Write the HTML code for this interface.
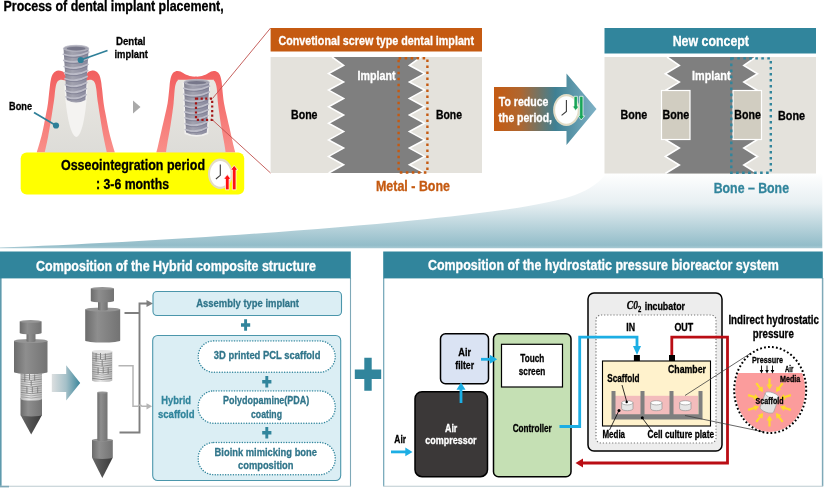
<!DOCTYPE html>
<html lang="en">
<head>
<meta charset="utf-8">
<title>Process of dental implant placement</title>
<style>
html,body{margin:0;padding:0;background:#fff;}
body{width:824px;height:488px;overflow:hidden;font-family:"Liberation Sans",sans-serif;}
svg{display:block;will-change:transform;}
svg text{font-family:"Liberation Sans",sans-serif;}
</style>
</head>
<body>
<svg width="824" height="488" viewBox="0 0 824 488">
<defs>
<linearGradient id="swoosh" x1="0" y1="0" x2="0" y2="1">
<stop offset="0" stop-color="#ffffff"/>
<stop offset="0.4" stop-color="#e7eff2"/>
<stop offset="0.96" stop-color="#93bdc9"/>
<stop offset="1" stop-color="#a9cad4"/>
</linearGradient>
<linearGradient id="arrowg" x1="0" y1="0" x2="1" y2="0">
<stop offset="0" stop-color="#c55a11"/>
<stop offset="0.25" stop-color="#b0662f"/>
<stop offset="0.6" stop-color="#3f8093"/>
<stop offset="1" stop-color="#7fb2c6"/>
</linearGradient>
<linearGradient id="sarrow" x1="0" y1="0" x2="1" y2="0">
<stop offset="0" stop-color="#dcdfe0"/>
<stop offset="0.5" stop-color="#a5c0c8"/>
<stop offset="1" stop-color="#3a869b"/>
</linearGradient>
<linearGradient id="gum" x1="0" y1="0" x2="0" y2="1">
<stop offset="0" stop-color="#f25f5f"/>
<stop offset="1" stop-color="#f98f8a"/>
</linearGradient>
<linearGradient id="bone" x1="0" y1="0" x2="0" y2="1">
<stop offset="0" stop-color="#e9e7e1"/>
<stop offset="1" stop-color="#dddcd8"/>
</linearGradient>
<linearGradient id="impl" x1="0" y1="0" x2="1" y2="0">
<stop offset="0" stop-color="#858594"/>
<stop offset="0.35" stop-color="#a3a3b0"/>
<stop offset="1" stop-color="#87879c"/>
</linearGradient>
<linearGradient id="cyl" x1="0" y1="0" x2="1" y2="0">
<stop offset="0" stop-color="#6c6c6c"/>
<stop offset="0.35" stop-color="#8e8e8e"/>
<stop offset="1" stop-color="#737373"/>
</linearGradient>
<linearGradient id="scaf" x1="0" y1="0" x2="1" y2="0">
<stop offset="0" stop-color="#b0b0b0"/>
<stop offset="0.4" stop-color="#e9e9e9"/>
<stop offset="1" stop-color="#b9b9b9"/>
</linearGradient>
<linearGradient id="cone" x1="0" y1="0" x2="1" y2="0">
<stop offset="0" stop-color="#6a6a6a"/>
<stop offset="0.4" stop-color="#555555"/>
<stop offset="1" stop-color="#3a3a3a"/>
</linearGradient>
<radialGradient id="clk" cx="0.5" cy="0.5" r="0.5">
<stop offset="0" stop-color="#ffffff"/>
<stop offset="0.8" stop-color="#ffffff"/>
<stop offset="1" stop-color="#d9d4c4"/>
</radialGradient>
</defs>
<rect width="824" height="488" fill="#ffffff"/>

<path d="M0,248.3 L0,247.6 C120,243.5 300,232 412,220.5 C480,213.5 545,206 575,195 C590,189.5 600,182 606.5,173 L822.3,173 L822.3,248.3 Z" fill="url(#swoosh)"/>
<text x="3.5" y="11.3" font-size="14" fill="#000" stroke="#000" stroke-width="0.3" font-weight="bold" textLength="220.2" lengthAdjust="spacingAndGlyphs">Process of dental implant placement,</text>
<g>
<path d="M36.7,152.5 C37.6,149.4 40.5,140.2 42.0,134.0 C43.5,127.8 44.8,120.5 45.8,115.3 C46.8,110.1 47.4,107.5 48.0,103.0 C48.6,98.5 49.1,92.4 49.6,88.6 C50.1,84.8 50.2,82.7 50.7,80.4 C51.2,78.1 51.6,76.2 52.4,74.7 C53.2,73.2 54.4,72.1 55.4,71.4 C56.4,70.7 57.4,70.5 58.5,70.5 C59.6,70.5 61.0,70.9 62.0,71.3 C63.0,71.7 63.5,72.0 64.2,72.8 C64.9,73.6 64.1,74.6 66.0,76.0 C67.9,77.4 72.5,81.0 75.8,81.0 C79.1,81.0 83.7,77.4 85.6,76.0 C87.5,74.6 86.7,73.6 87.4,72.8 C88.1,72.0 88.6,71.7 89.6,71.3 C90.5,70.9 92.0,70.5 93.1,70.5 C94.2,70.5 95.2,70.7 96.2,71.4 C97.2,72.1 98.4,73.2 99.2,74.7 C100.0,76.2 100.4,78.1 100.9,80.4 C101.4,82.7 101.5,84.8 102.0,88.6 C102.5,92.4 103.0,98.5 103.6,103.0 C104.2,107.5 104.8,110.1 105.8,115.3 C106.8,120.5 108.1,127.8 109.6,134.0 C111.1,140.2 114.0,149.4 114.9,152.5 Z" fill="url(#gum)"/>
<path d="M44.7,152.5 C45.3,149.9 46.9,142.9 48.1,136.7 C49.3,130.4 50.9,120.6 51.8,115.0 C52.7,109.4 53.1,106.3 53.6,103.3 C54.1,100.3 54.2,99.2 54.5,96.8 C54.8,94.3 55.0,90.9 55.4,88.6 C55.8,86.3 56.0,84.4 56.7,83.0 C57.4,81.6 58.3,80.4 59.8,80.0 C61.3,79.6 62.8,80.1 65.5,80.6 C68.2,81.1 72.4,83.0 75.8,83.0 C79.2,83.0 83.4,81.1 86.1,80.6 C88.8,80.1 90.3,79.6 91.8,80.0 C93.3,80.4 94.2,81.6 94.9,83.0 C95.6,84.4 95.8,86.3 96.2,88.6 C96.6,90.9 96.8,94.3 97.1,96.8 C97.4,99.2 97.5,100.3 98.0,103.3 C98.5,106.3 98.9,109.4 99.8,115.0 C100.7,120.6 102.3,130.4 103.5,136.7 C104.7,142.9 106.3,149.9 106.9,152.5 Z" fill="url(#bone)"/>
<path d="M64.3,84 C65.5,110 70,136 76.3,137 C82.5,136 86.5,110 87.6,84 Z" fill="#f4f3f1"/>
<path d="M63.5,48.3 L66.8,100 Q76.1,105 85.4,100 L88.7,48.3 Z" fill="url(#impl)"/>
<path d="M63.4,54.3 Q76.1,58.3 88.8,52.1" fill="none" stroke="#bcbcc8" stroke-width="1.7" stroke-linecap="round"/>
<path d="M64.0,55.9 Q76.1,59.9 88.2,53.7" fill="none" stroke="#75758a" stroke-width="0.9" opacity="0.7"/>
<path d="M63.8,60.4 Q76.1,64.4 88.4,58.2" fill="none" stroke="#bcbcc8" stroke-width="1.7" stroke-linecap="round"/>
<path d="M64.4,62.0 Q76.1,66.0 87.8,59.8" fill="none" stroke="#75758a" stroke-width="0.9" opacity="0.7"/>
<path d="M64.2,66.5 Q76.1,70.5 88.0,64.3" fill="none" stroke="#bcbcc8" stroke-width="1.7" stroke-linecap="round"/>
<path d="M64.8,68.1 Q76.1,72.1 87.4,65.9" fill="none" stroke="#75758a" stroke-width="0.9" opacity="0.7"/>
<path d="M64.6,72.6 Q76.1,76.6 87.6,70.4" fill="none" stroke="#bcbcc8" stroke-width="1.7" stroke-linecap="round"/>
<path d="M65.2,74.2 Q76.1,78.2 87.0,72.0" fill="none" stroke="#75758a" stroke-width="0.9" opacity="0.7"/>
<path d="M65.0,78.7 Q76.1,82.7 87.2,76.5" fill="none" stroke="#bcbcc8" stroke-width="1.7" stroke-linecap="round"/>
<path d="M65.6,80.2 Q76.1,84.2 86.6,78.1" fill="none" stroke="#75758a" stroke-width="0.9" opacity="0.7"/>
<path d="M65.4,84.7 Q76.1,88.7 86.8,82.5" fill="none" stroke="#bcbcc8" stroke-width="1.7" stroke-linecap="round"/>
<path d="M66.0,86.3 Q76.1,90.3 86.2,84.1" fill="none" stroke="#75758a" stroke-width="0.9" opacity="0.7"/>
<path d="M65.8,90.8 Q76.1,94.8 86.4,88.6" fill="none" stroke="#bcbcc8" stroke-width="1.7" stroke-linecap="round"/>
<path d="M66.4,92.4 Q76.1,96.4 85.8,90.2" fill="none" stroke="#75758a" stroke-width="0.9" opacity="0.7"/>
<path d="M66.1,96.9 Q76.1,100.9 86.1,94.7" fill="none" stroke="#bcbcc8" stroke-width="1.7" stroke-linecap="round"/>
<path d="M66.7,98.5 Q76.1,102.5 85.5,96.3" fill="none" stroke="#75758a" stroke-width="0.9" opacity="0.7"/>
<ellipse cx="76.1" cy="48.3" rx="12.600000000000001" ry="3" fill="#a3a3b0" stroke="#b9b9c5" stroke-width="0.8"/>
<ellipse cx="76.1" cy="48.599999999999994" rx="9.400000000000002" ry="1.8" fill="#77778a"/>
<line x1="80.7" y1="60" x2="107.5" y2="50.5" stroke="#2e7f98" stroke-width="1.7"/><circle cx="80.7" cy="60" r="3.1" fill="#2e7f98"/>
<line x1="56" y1="125.5" x2="34" y2="112.5" stroke="#2e7f98" stroke-width="1.7"/><circle cx="56" cy="125.5" r="3.1" fill="#2e7f98"/>
</g>
<text x="116.0" y="45.0" font-size="11.5" fill="#000" stroke="#000" stroke-width="0.3" font-weight="bold" textLength="29.5" lengthAdjust="spacingAndGlyphs">Dental</text>
<text x="114.5" y="58.2" font-size="11.5" fill="#000" stroke="#000" stroke-width="0.3" font-weight="bold" textLength="33.5" lengthAdjust="spacingAndGlyphs">implant</text>
<text x="9.0" y="110.0" font-size="11.5" fill="#000" stroke="#000" stroke-width="0.3" font-weight="bold" textLength="23.0" lengthAdjust="spacingAndGlyphs">Bone</text>
<polygon points="133,100.5 140.5,107 133,113.5" fill="#a9a9a9"/>
<g>
<path d="M156.3,152.5 C156.6,151.4 157.1,149.8 158.0,146.0 C158.9,142.2 160.5,134.8 161.6,130.0 C162.7,125.2 163.6,121.5 164.6,117.0 C165.6,112.5 166.8,108.0 167.6,103.3 C168.4,98.6 168.9,92.4 169.3,88.6 C169.7,84.8 169.7,82.8 170.2,80.4 C170.7,78.0 171.3,75.5 172.3,74.0 C173.3,72.5 175.0,71.5 176.4,71.1 C177.8,70.7 178.9,70.9 180.5,71.5 C182.1,72.1 184.1,73.9 186.2,74.7 C188.2,75.5 191.2,76.3 192.8,76.6 C194.4,76.9 194.8,76.6 195.8,76.6 C196.8,76.6 197.2,76.9 198.8,76.6 C200.4,76.3 203.4,75.5 205.4,74.7 C207.5,73.9 209.5,72.1 211.1,71.5 C212.7,70.9 213.8,70.7 215.2,71.1 C216.6,71.5 218.3,72.5 219.3,74.0 C220.3,75.5 220.9,78.0 221.4,80.4 C221.9,82.8 221.9,84.8 222.3,88.6 C222.7,92.4 223.2,98.6 224.0,103.3 C224.8,108.0 226.0,112.5 227.0,117.0 C228.0,121.5 228.9,125.2 230.0,130.0 C231.1,134.8 232.7,142.2 233.6,146.0 C234.5,149.8 235.0,151.4 235.3,152.5 Z" fill="url(#gum)"/>
<path d="M166.0,152.5 C166.2,150.9 166.6,147.6 167.4,143.0 C168.2,138.4 169.8,130.2 170.6,125.0 C171.4,119.8 172.0,115.6 172.5,112.0 C173.0,108.4 173.2,107.2 173.6,103.3 C174.0,99.4 174.4,91.9 174.8,88.6 C175.2,85.2 175.5,84.5 176.0,83.2 C176.5,81.9 177.1,81.2 177.8,80.6 C178.6,80.0 174.9,79.9 180.5,79.8 C186.1,79.7 205.6,79.7 211.1,79.8 C216.7,79.9 213.1,80.0 213.8,80.6 C214.6,81.2 215.1,81.9 215.6,83.2 C216.1,84.5 216.4,85.2 216.8,88.6 C217.2,91.9 217.6,99.4 218.0,103.3 C218.4,107.2 218.6,108.4 219.1,112.0 C219.6,115.6 220.2,119.8 221.0,125.0 C221.9,130.2 223.4,138.4 224.2,143.0 C225.0,147.6 225.4,150.9 225.6,152.5 Z" fill="url(#bone)"/>
<path d="M182.5,82 L184.5,134 Q196.5,139.5 208.3,134 L210.3,82 Z" fill="#f4f3f1" opacity="0.8"/>
<path d="M184,82.3 L186,132.5 Q196.4,137.5 206.8,132.5 L209.3,82.3 Z" fill="url(#impl)"/>
<path d="M183.8,88.3 Q196.6,92.3 209.5,86.1" fill="none" stroke="#bcbcc8" stroke-width="1.7" stroke-linecap="round"/>
<path d="M184.4,89.9 Q196.6,93.9 208.9,87.7" fill="none" stroke="#75758a" stroke-width="0.9" opacity="0.7"/>
<path d="M184.0,94.2 Q196.6,98.2 209.2,92.0" fill="none" stroke="#bcbcc8" stroke-width="1.7" stroke-linecap="round"/>
<path d="M184.6,95.8 Q196.6,99.8 208.6,93.6" fill="none" stroke="#75758a" stroke-width="0.9" opacity="0.7"/>
<path d="M184.3,100.1 Q196.6,104.1 208.9,97.9" fill="none" stroke="#bcbcc8" stroke-width="1.7" stroke-linecap="round"/>
<path d="M184.9,101.7 Q196.6,105.7 208.3,99.5" fill="none" stroke="#75758a" stroke-width="0.9" opacity="0.7"/>
<path d="M184.5,106.0 Q196.5,110.0 208.6,103.8" fill="none" stroke="#bcbcc8" stroke-width="1.7" stroke-linecap="round"/>
<path d="M185.1,107.6 Q196.5,111.6 208.0,105.4" fill="none" stroke="#75758a" stroke-width="0.9" opacity="0.7"/>
<path d="M184.7,111.9 Q196.5,115.9 208.3,109.7" fill="none" stroke="#bcbcc8" stroke-width="1.7" stroke-linecap="round"/>
<path d="M185.3,113.5 Q196.5,117.5 207.7,111.3" fill="none" stroke="#75758a" stroke-width="0.9" opacity="0.7"/>
<path d="M185.0,117.8 Q196.5,121.8 208.0,115.6" fill="none" stroke="#bcbcc8" stroke-width="1.7" stroke-linecap="round"/>
<path d="M185.6,119.4 Q196.5,123.4 207.4,117.2" fill="none" stroke="#75758a" stroke-width="0.9" opacity="0.7"/>
<path d="M185.2,123.7 Q196.4,127.7 207.7,121.5" fill="none" stroke="#bcbcc8" stroke-width="1.7" stroke-linecap="round"/>
<path d="M185.8,125.3 Q196.4,129.3 207.1,123.1" fill="none" stroke="#75758a" stroke-width="0.9" opacity="0.7"/>
<path d="M185.4,129.6 Q196.4,133.6 207.4,127.4" fill="none" stroke="#bcbcc8" stroke-width="1.7" stroke-linecap="round"/>
<path d="M186.0,131.2 Q196.4,135.2 206.8,129.0" fill="none" stroke="#75758a" stroke-width="0.9" opacity="0.7"/>
<ellipse cx="196.65" cy="82.3" rx="12.650000000000006" ry="2.9" fill="#a3a3b0" stroke="#b9b9c5" stroke-width="0.8"/>
<ellipse cx="196.65" cy="82.6" rx="9.450000000000006" ry="1.7" fill="#77778a"/>
<rect x="196" y="98.6" width="16.2" height="21.2" fill="none" stroke="#a31515" stroke-width="2.2" stroke-dasharray="2.2 2.4"/>
<line x1="212.5" y1="98.5" x2="270.6" y2="28" stroke="#c0504d" stroke-width="0.9"/>
<line x1="212.5" y1="120" x2="270.6" y2="173" stroke="#c0504d" stroke-width="0.9"/>
</g>
<rect x="20.7" y="152.5" width="223.5" height="42" rx="6" ry="6" fill="#ffff00"/>
<text x="61.0" y="170.0" font-size="14.5" fill="#000" stroke="#000" stroke-width="0.3" font-weight="bold" textLength="144.0" lengthAdjust="spacingAndGlyphs">Osseointegration period</text>
<text x="96.0" y="189.0" font-size="14.5" fill="#000" stroke="#000" stroke-width="0.3" font-weight="bold" textLength="73.0" lengthAdjust="spacingAndGlyphs">: 3-6 months</text>
<ellipse cx="220.3" cy="173.8" rx="12.3" ry="15.2" fill="#e2dcc6"/>
<ellipse cx="220.3" cy="173.8" rx="10.3" ry="12.899999999999999" fill="#ffffff"/>
<path d="M220.3,164.4 L220.3,175.3 L215.9,179.0" fill="none" stroke="#3a3a3a" stroke-width="1.1"/>
<polygon points="227.3,174.6 230.9,179.1 229.10000000000002,179.1 229.10000000000002,189.8 225.5,189.8 225.5,179.1 223.70000000000002,179.1" fill="#ff1010" stroke="#fff" stroke-width="0.7"/>
<polygon points="234.2,165.4 237.79999999999998,169.9 236.0,169.9 236.0,189.8 232.39999999999998,189.8 232.39999999999998,169.9 230.6,169.9" fill="#ff1010" stroke="#fff" stroke-width="0.7"/>
<rect x="270.6" y="28" width="211.4" height="23.5" fill="#c55a11"/>
<text x="278.5" y="44.5" font-size="13" fill="#fff" stroke="#fff" stroke-width="0.3" font-weight="bold" textLength="195.5" lengthAdjust="spacingAndGlyphs">Convetional screw type dental implant</text>
<rect x="270.6" y="57" width="211.4" height="116" fill="#e4e2dc"/>
<polygon points="332.0,57.0 343.6,65.3 328.6,73.6 343.6,81.9 328.6,90.1 343.6,98.4 328.6,106.7 343.6,115.0 328.6,123.3 343.6,131.6 328.6,139.9 343.6,148.1 328.6,156.4 343.6,164.7 328.6,173.0 424.6,173.0 409.4,164.7 424.6,156.4 409.4,148.1 424.6,139.9 409.4,131.6 424.6,123.3 409.4,115.0 424.6,106.7 409.4,98.4 424.6,90.1 409.4,81.9 424.6,73.6 409.4,65.3 421.0,57.0" fill="#7f7f7f"/>
<polyline points="332.0,57.0 343.6,65.3 328.6,73.6 343.6,81.9 328.6,90.1 343.6,98.4 328.6,106.7 343.6,115.0 328.6,123.3 343.6,131.6 328.6,139.9 343.6,148.1 328.6,156.4 343.6,164.7 328.6,173.0" fill="none" stroke="#fff" stroke-width="1.6" stroke-linejoin="miter"/>
<polyline points="421.0,57.0 409.4,65.3 424.6,73.6 409.4,81.9 424.6,90.1 409.4,98.4 424.6,106.7 409.4,115.0 424.6,123.3 409.4,131.6 424.6,139.9 409.4,148.1 424.6,156.4 409.4,164.7 424.6,173.0" fill="none" stroke="#fff" stroke-width="1.6" stroke-linejoin="miter"/>
<rect x="398.6" y="58.3" width="28.8" height="114.2" fill="none" stroke="#c55a11" stroke-width="2.4" stroke-dasharray="2.6 3.4"/>
<text x="357.5" y="80.0" font-size="12" fill="#fff" stroke="#fff" stroke-width="0.3" font-weight="bold" textLength="38.0" lengthAdjust="spacingAndGlyphs">Implant</text>
<text x="291.0" y="119.0" font-size="12" fill="#000" stroke="#000" stroke-width="0.3" font-weight="bold" textLength="26.5" lengthAdjust="spacingAndGlyphs">Bone</text>
<text x="436.0" y="119.0" font-size="12" fill="#000" stroke="#000" stroke-width="0.3" font-weight="bold" textLength="26.0" lengthAdjust="spacingAndGlyphs">Bone</text>
<text x="376.0" y="191.0" font-size="14.5" fill="#c55a11" stroke="#c55a11" stroke-width="0.3" font-weight="bold" textLength="74.0" lengthAdjust="spacingAndGlyphs">Metal - Bone</text>
<polygon points="494,87 566.5,87 566.5,73.5 596.5,109 566.5,145 566.5,131 494,131" fill="url(#arrowg)"/>
<text x="498.8" y="106.4" font-size="12.5" fill="#fff" stroke="#fff" stroke-width="0.3" font-weight="bold" textLength="49.7" lengthAdjust="spacingAndGlyphs">To reduce</text>
<text x="498.5" y="122.0" font-size="12.5" fill="#fff" stroke="#fff" stroke-width="0.3" font-weight="bold" textLength="53.5" lengthAdjust="spacingAndGlyphs">the period,</text>
<ellipse cx="566.4" cy="110" rx="13.3" ry="16" fill="#e2dcc6"/>
<ellipse cx="566.4" cy="110" rx="11.3" ry="13.7" fill="#ffffff"/>
<path d="M566.4,100.1 L566.4,111.5 L561.6,115.4" fill="none" stroke="#3a3a3a" stroke-width="1.1"/>
<polygon points="575.7,110.5 579.1,106.2 577.4000000000001,106.2 577.4000000000001,96.3 574.0,96.3 574.0,106.2 572.3000000000001,106.2" fill="#18a558" stroke="#fff" stroke-width="0.7"/>
<polygon points="581.3,120 584.6999999999999,115.8 583.0,115.8 583.0,96.3 579.5999999999999,96.3 579.5999999999999,115.8 577.9,115.8" fill="#18a558" stroke="#fff" stroke-width="0.7"/>
<rect x="604.5" y="28" width="211.5" height="25.5" fill="#31859c"/>
<text x="672.7" y="46.0" font-size="14.5" fill="#fff" stroke="#fff" stroke-width="0.3" font-weight="bold" textLength="76.3" lengthAdjust="spacingAndGlyphs">New concept</text>
<rect x="604.5" y="57" width="211.5" height="116.5" fill="#e4e2dc"/>
<polygon points="667.0,57.0 679.3,65.4 665.3,73.8 679.3,82.1 665.3,90.5 665.3,139.5 679.3,148.0 665.3,156.5 679.3,165.0 665.3,173.5 757.5,173.5 743.8,165.0 757.5,156.5 743.8,148.0 757.5,139.5 757.5,90.5 743.8,82.1 757.5,73.8 743.8,65.4 756.0,57.0" fill="#7f7f7f"/>
<polyline points="667.0,57.0 679.3,65.4 665.3,73.8 679.3,82.1 665.3,90.5" fill="none" stroke="#fff" stroke-width="1.6" stroke-linejoin="miter"/>
<polyline points="665.3,139.5 679.3,148.0 665.3,156.5 679.3,165.0 665.3,173.5" fill="none" stroke="#fff" stroke-width="1.6" stroke-linejoin="miter"/>
<polyline points="756.0,57.0 743.8,65.4 757.5,73.8 743.8,82.1 757.5,90.5" fill="none" stroke="#fff" stroke-width="1.6" stroke-linejoin="miter"/>
<polyline points="757.5,139.5 743.8,148.0 757.5,156.5 743.8,165.0 757.5,173.5" fill="none" stroke="#fff" stroke-width="1.6" stroke-linejoin="miter"/>
<rect x="661.5" y="90.5" width="28.5" height="49" fill="#d1cdc1" stroke="#fff" stroke-width="1.2"/>
<rect x="733" y="90.5" width="28.5" height="49" fill="#d1cdc1" stroke="#fff" stroke-width="1.2"/>
<rect x="731.3" y="58.4" width="39.5" height="114.4" fill="none" stroke="#31859c" stroke-width="2.4" stroke-dasharray="2.6 3.4"/>
<text x="692.0" y="79.6" font-size="12" fill="#fff" stroke="#fff" stroke-width="0.3" font-weight="bold" textLength="38.5" lengthAdjust="spacingAndGlyphs">Implant</text>
<text x="620.5" y="118.6" font-size="12" fill="#000" stroke="#000" stroke-width="0.3" font-weight="bold" textLength="26.8" lengthAdjust="spacingAndGlyphs">Bone</text>
<text x="662.6" y="118.6" font-size="12" fill="#000" stroke="#000" stroke-width="0.3" font-weight="bold" textLength="26.7" lengthAdjust="spacingAndGlyphs">Bone</text>
<text x="734.3" y="118.8" font-size="12" fill="#000" stroke="#000" stroke-width="0.3" font-weight="bold" textLength="26.5" lengthAdjust="spacingAndGlyphs">Bone</text>
<text x="778.0" y="120.3" font-size="12" fill="#000" stroke="#000" stroke-width="0.3" font-weight="bold" textLength="27.0" lengthAdjust="spacingAndGlyphs">Bone</text>
<text x="713.7" y="192.6" font-size="14.5" fill="#31859c" stroke="#31859c" stroke-width="0.3" font-weight="bold" textLength="75.3" lengthAdjust="spacingAndGlyphs">Bone – Bone</text>
<path d="M0.8,278 V486.3" stroke="#5e9aad" stroke-width="1.6" fill="none"/><path d="M350.5,278 V486.3" stroke="#7fa9b8" stroke-width="1.1" fill="none"/><path d="M0,486.3 H351" stroke="#bccbd0" stroke-width="1.1" fill="none"/><path d="M0,486.6 H9" stroke="#7fa9b8" stroke-width="1.6" fill="none"/>
<rect x="0" y="251.5" width="350.8" height="26.9" fill="#31859c"/>
<text x="36.0" y="270.8" font-size="14" fill="#fff" stroke="#fff" stroke-width="0.3" font-weight="bold" textLength="280.0" lengthAdjust="spacingAndGlyphs">Composition of the Hybrid composite structure</text>
<polygon points="20.5,415 42,415 31.2,434.5" fill="url(#cone)"/>
<path d="M20.5,398 L20.5,415 A10.75,1.5 0 0 0 42,415 L42,398 Z" fill="url(#cyl)"/>
<ellipse cx="31.25" cy="398" rx="10.75" ry="1.5" fill="#949494"/>
<path d="M20.5,372.5 L20.5,399 A10.75,1.6 0 0 0 42,399 L42,372.5 Z" fill="url(#scaf)"/>
<ellipse cx="31.25" cy="372.5" rx="10.75" ry="1.6" fill="#e4e4e4"/>
<path d="M20.8,374.7 Q31.2,377.3 41.7,374.7" fill="none" stroke="#8c8c8c" stroke-width="0.7"/>
<path d="M20.8,376.9 Q31.2,379.5 41.7,376.9" fill="none" stroke="#8c8c8c" stroke-width="0.7"/>
<path d="M20.8,379.1 Q31.2,381.7 41.7,379.1" fill="none" stroke="#6f6f6f" stroke-width="0.7"/>
<path d="M20.8,381.3 Q31.2,383.9 41.7,381.3" fill="none" stroke="#8c8c8c" stroke-width="0.7"/>
<path d="M20.8,383.5 Q31.2,386.1 41.7,383.5" fill="none" stroke="#8c8c8c" stroke-width="0.7"/>
<path d="M20.8,385.8 Q31.2,388.4 41.7,385.8" fill="none" stroke="#6f6f6f" stroke-width="0.7"/>
<path d="M20.8,388.0 Q31.2,390.6 41.7,388.0" fill="none" stroke="#8c8c8c" stroke-width="0.7"/>
<path d="M20.8,390.2 Q31.2,392.8 41.7,390.2" fill="none" stroke="#8c8c8c" stroke-width="0.7"/>
<path d="M20.8,392.4 Q31.2,395.0 41.7,392.4" fill="none" stroke="#6f6f6f" stroke-width="0.7"/>
<path d="M20.8,394.6 Q31.2,397.2 41.7,394.6" fill="none" stroke="#8c8c8c" stroke-width="0.7"/>
<path d="M20.8,396.8 Q31.2,399.4 41.7,396.8" fill="none" stroke="#8c8c8c" stroke-width="0.7"/>
<line x1="24.8" y1="374.0" x2="24.8" y2="381.9" stroke="#7a7a7a" stroke-width="0.9"/>
<line x1="29.5" y1="374.0" x2="29.5" y2="379.8" stroke="#7a7a7a" stroke-width="0.9"/>
<line x1="34.7" y1="374.5" x2="34.7" y2="380.6" stroke="#7a7a7a" stroke-width="0.9"/>
<line x1="26.9" y1="387.2" x2="26.9" y2="393.1" stroke="#7a7a7a" stroke-width="0.9"/>
<line x1="32.3" y1="386.7" x2="32.3" y2="392.6" stroke="#7a7a7a" stroke-width="0.9"/>
<line x1="37.7" y1="387.2" x2="37.7" y2="393.1" stroke="#7a7a7a" stroke-width="0.9"/>
<line x1="31.2" y1="380.6" x2="31.2" y2="385.9" stroke="#7a7a7a" stroke-width="0.9"/>
<path d="M14,341 L14,372 A16.75,2 0 0 0 47.5,372 L47.5,341 Z" fill="url(#cyl)"/>
<ellipse cx="30.75" cy="341" rx="16.75" ry="2" fill="#949494"/>
<path d="M26.5,333 L26.5,341 A4.5,1 0 0 0 35.5,341 L35.5,333 Z" fill="url(#cyl)"/>
<ellipse cx="31.0" cy="333" rx="4.5" ry="1" fill="#949494"/>
<path d="M19.7,321.5 L19.7,333 A10.950000000000001,1.5 0 0 0 41.6,333 L41.6,321.5 Z" fill="url(#cyl)"/>
<ellipse cx="30.65" cy="321.5" rx="10.950000000000001" ry="1.5" fill="#949494"/>
<polygon points="51.8,374.1 66.2,374.1 66.2,365.2 80.2,383 66.2,400.5 66.2,392.1 51.8,392.1" fill="url(#sarrow)"/>
<path d="M85.2,309.5 L85.2,340.5 A17.5,2 0 0 0 120.2,340.5 L120.2,309.5 Z" fill="url(#cyl)"/>
<ellipse cx="102.7" cy="309.5" rx="17.5" ry="2" fill="#949494"/>
<path d="M98,301 L98,309.5 A4.850000000000001,1 0 0 0 107.7,309.5 L107.7,301 Z" fill="url(#cyl)"/>
<ellipse cx="102.85" cy="301" rx="4.850000000000001" ry="1" fill="#949494"/>
<path d="M90.8,288.5 L90.8,301 A11.600000000000001,1.5 0 0 0 114,301 L114,288.5 Z" fill="url(#cyl)"/>
<ellipse cx="102.4" cy="288.5" rx="11.600000000000001" ry="1.5" fill="#949494"/>
<path d="M92,351.5 L92,380.5 A10.149999999999999,1.6 0 0 0 112.3,380.5 L112.3,351.5 Z" fill="url(#scaf)"/>
<ellipse cx="102.15" cy="351.5" rx="10.149999999999999" ry="1.6" fill="#e4e4e4"/>
<path d="M92.3,353.7 Q102.2,356.3 112.0,353.7" fill="none" stroke="#8c8c8c" stroke-width="0.7"/>
<path d="M92.3,356.0 Q102.2,358.6 112.0,356.0" fill="none" stroke="#8c8c8c" stroke-width="0.7"/>
<path d="M92.3,358.2 Q102.2,360.8 112.0,358.2" fill="none" stroke="#6f6f6f" stroke-width="0.7"/>
<path d="M92.3,360.4 Q102.2,363.0 112.0,360.4" fill="none" stroke="#8c8c8c" stroke-width="0.7"/>
<path d="M92.3,362.7 Q102.2,365.3 112.0,362.7" fill="none" stroke="#8c8c8c" stroke-width="0.7"/>
<path d="M92.3,364.9 Q102.2,367.5 112.0,364.9" fill="none" stroke="#6f6f6f" stroke-width="0.7"/>
<path d="M92.3,367.1 Q102.2,369.7 112.0,367.1" fill="none" stroke="#8c8c8c" stroke-width="0.7"/>
<path d="M92.3,369.3 Q102.2,371.9 112.0,369.3" fill="none" stroke="#8c8c8c" stroke-width="0.7"/>
<path d="M92.3,371.6 Q102.2,374.2 112.0,371.6" fill="none" stroke="#6f6f6f" stroke-width="0.7"/>
<path d="M92.3,373.8 Q102.2,376.4 112.0,373.8" fill="none" stroke="#8c8c8c" stroke-width="0.7"/>
<path d="M92.3,376.0 Q102.2,378.6 112.0,376.0" fill="none" stroke="#8c8c8c" stroke-width="0.7"/>
<path d="M92.3,378.3 Q102.2,380.9 112.0,378.3" fill="none" stroke="#6f6f6f" stroke-width="0.7"/>
<line x1="96.1" y1="353.0" x2="96.1" y2="361.7" stroke="#7a7a7a" stroke-width="0.9"/>
<line x1="100.5" y1="353.0" x2="100.5" y2="359.4" stroke="#7a7a7a" stroke-width="0.9"/>
<line x1="105.4" y1="353.6" x2="105.4" y2="360.2" stroke="#7a7a7a" stroke-width="0.9"/>
<line x1="98.1" y1="367.5" x2="98.1" y2="373.9" stroke="#7a7a7a" stroke-width="0.9"/>
<line x1="103.2" y1="366.9" x2="103.2" y2="373.3" stroke="#7a7a7a" stroke-width="0.9"/>
<line x1="108.2" y1="367.5" x2="108.2" y2="373.9" stroke="#7a7a7a" stroke-width="0.9"/>
<line x1="102.2" y1="360.2" x2="102.2" y2="366.1" stroke="#7a7a7a" stroke-width="0.9"/>
<polygon points="92,457.5 112.8,457.5 102.3,478" fill="url(#cone)"/>
<path d="M92,440 L92,457.5 A10.399999999999999,1.5 0 0 0 112.8,457.5 L112.8,440 Z" fill="url(#cyl)"/>
<ellipse cx="102.4" cy="440" rx="10.399999999999999" ry="1.5" fill="#949494"/>
<path d="M97.3,392.5 L97.3,440 A5.100000000000001,1 0 0 0 107.5,440 L107.5,392.5 Z" fill="url(#cyl)"/>
<ellipse cx="102.4" cy="392.5" rx="5.100000000000001" ry="1" fill="#949494"/>
<path d="M124.5,313 L139.5,313 M119.5,432.5 L139.5,432.5 L139.5,303.5 L148,303.5" fill="none" stroke="#7f7f7f" stroke-width="1.9"/>
<polygon points="146.5,300 153,303.5 146.5,307" fill="#7f7f7f"/>
<path d="M118.5,365.8 L133,365.8 L133,406.3 L138,406.3 Q140,403.5 142,406.3 L147,406.3" fill="none" stroke="#b5b5b5" stroke-width="1.5"/>
<polygon points="146.5,403.2 152.2,406.3 146.5,409.4" fill="#b5b5b5"/>
<rect x="153" y="291.5" width="188.5" height="24" rx="4" ry="4" fill="#dbeef4" stroke="#4b96ab" stroke-width="1.1"/>
<text x="196.3" y="306.6" font-size="11.5" fill="#30758a" stroke="#30758a" stroke-width="0.3" font-weight="bold" textLength="102.7" lengthAdjust="spacingAndGlyphs">Assembly type implant</text>
<path d="M241.0,323.30 H244.15 V319.2 H247.05 V323.30 H250.2 V326.70 H247.05 V330.8 H244.15 V326.70 H241.0 Z" fill="#31859c"/>
<rect x="152.7" y="335.5" width="188" height="145" rx="5" ry="5" fill="#dbeef4" stroke="#4b96ab" stroke-width="1.1"/>
<rect x="198.2" y="340.9" width="137" height="31.4" rx="15.5" ry="15.5" fill="#fff" stroke="#31859c" stroke-width="1.4" stroke-linecap="round" stroke-dasharray="0.1 2.5"/>
<rect x="198.2" y="390.9" width="137" height="32.4" rx="15.5" ry="15.5" fill="#fff" stroke="#31859c" stroke-width="1.4" stroke-linecap="round" stroke-dasharray="0.1 2.5"/>
<rect x="198.2" y="442.5" width="137" height="32.2" rx="15.5" ry="15.5" fill="#fff" stroke="#31859c" stroke-width="1.4" stroke-linecap="round" stroke-dasharray="0.1 2.5"/>
<path d="M262.2,380.10 H265.35 V376.0 H268.25 V380.10 H271.4 V383.50 H268.25 V387.6 H265.35 V383.50 H262.2 Z" fill="#31859c"/>
<path d="M262.2,431.10 H265.35 V427.0 H268.25 V431.10 H271.4 V434.50 H268.25 V438.6 H265.35 V434.50 H262.2 Z" fill="#31859c"/>
<text x="213.8" y="359.0" font-size="11.5" fill="#30758a" stroke="#30758a" stroke-width="0.3" font-weight="bold" textLength="106.6" lengthAdjust="spacingAndGlyphs">3D printed PCL scaffold</text>
<text x="223.0" y="404.3" font-size="11.5" fill="#30758a" stroke="#30758a" stroke-width="0.3" font-weight="bold" textLength="86.3" lengthAdjust="spacingAndGlyphs">Polydopamine(PDA)</text>
<text x="251.0" y="417.5" font-size="11.5" fill="#30758a" stroke="#30758a" stroke-width="0.3" font-weight="bold" textLength="31.0" lengthAdjust="spacingAndGlyphs">coating</text>
<text x="214.6" y="455.7" font-size="11.5" fill="#30758a" stroke="#30758a" stroke-width="0.3" font-weight="bold" textLength="102.4" lengthAdjust="spacingAndGlyphs">Bioink mimicking bone</text>
<text x="238.0" y="469.3" font-size="11.5" fill="#30758a" stroke="#30758a" stroke-width="0.3" font-weight="bold" textLength="55.5" lengthAdjust="spacingAndGlyphs">composition</text>
<text x="161.3" y="404.3" font-size="11.5" fill="#31859c" stroke="#31859c" stroke-width="0.3" font-weight="bold" textLength="29.7" lengthAdjust="spacingAndGlyphs">Hybrid</text>
<text x="158.0" y="417.5" font-size="11.5" fill="#31859c" stroke="#31859c" stroke-width="0.3" font-weight="bold" textLength="36.6" lengthAdjust="spacingAndGlyphs">scaffold</text>
<path d="M354.8,369.50 H364.30 V357.8 H371.70 V369.50 H381.2 V379.10 H371.70 V390.8 H364.30 V379.10 H354.8 Z" fill="#31859c"/>
<path d="M383.7,278 V486.3" stroke="#6ea4b6" stroke-width="1.2" fill="none"/><path d="M822.6,278 V486.3" stroke="#7fa9b8" stroke-width="1.5" fill="none"/><path d="M383.2,486.3 H823" stroke="#bccbd0" stroke-width="1.1" fill="none"/>
<rect x="383.2" y="251.5" width="439.6" height="26.9" fill="#31859c"/>
<text x="427.9" y="270.4" font-size="14" fill="#fff" stroke="#fff" stroke-width="0.3" font-weight="bold" textLength="350.9" lengthAdjust="spacingAndGlyphs">Composition of the hydrostatic pressure bioreactor system</text>
<rect x="415" y="391.7" width="72.5" height="85" rx="7" ry="7" fill="#3b3838" stroke="#000" stroke-width="1.5"/>
<rect x="440.5" y="333.7" width="48" height="50" rx="5" ry="5" fill="#dae3f3" stroke="#000" stroke-width="1.5"/>
<rect x="493.5" y="333.7" width="77.5" height="143" rx="5" ry="5" fill="#c5e0b4" stroke="#000" stroke-width="1.5"/>
<rect x="501.5" y="344.3" width="61" height="42.7" fill="#fff" stroke="#000" stroke-width="1.2"/>
<text x="458.3" y="355.8" font-size="10.5" fill="#000" stroke="#000" stroke-width="0.3" font-weight="bold" textLength="12.7" lengthAdjust="spacingAndGlyphs">Air</text>
<text x="455.3" y="368.5" font-size="10.5" fill="#000" stroke="#000" stroke-width="0.3" font-weight="bold" textLength="18.7" lengthAdjust="spacingAndGlyphs">filter</text>
<text x="520.3" y="362.4" font-size="10.5" fill="#000" stroke="#000" stroke-width="0.3" font-weight="bold" textLength="23.9" lengthAdjust="spacingAndGlyphs">Touch</text>
<text x="518.8" y="374.8" font-size="10.5" fill="#000" stroke="#000" stroke-width="0.3" font-weight="bold" textLength="26.4" lengthAdjust="spacingAndGlyphs">screen</text>
<text x="512.7" y="431.5" font-size="10.5" fill="#000" stroke="#000" stroke-width="0.3" font-weight="bold" textLength="39.1" lengthAdjust="spacingAndGlyphs">Controller</text>
<text x="445.0" y="431.5" font-size="10.5" fill="#fff" stroke="#fff" stroke-width="0.3" font-weight="bold" textLength="12.3" lengthAdjust="spacingAndGlyphs">Air</text>
<text x="425.3" y="444.3" font-size="10.5" fill="#fff" stroke="#fff" stroke-width="0.3" font-weight="bold" textLength="51.3" lengthAdjust="spacingAndGlyphs">compressor</text>
<text x="394.3" y="443.0" font-size="10.5" fill="#000" stroke="#000" stroke-width="0.3" font-weight="bold" textLength="11.7" lengthAdjust="spacingAndGlyphs">Air</text>
<line x1="391" y1="451.9" x2="407" y2="451.9" stroke="#1caee4" stroke-width="2.8"/><polygon points="405.3,447.6 412.5,451.9 405.3,456.2" fill="#1caee4"/>
<line x1="461" y1="403" x2="461" y2="388.5" stroke="#1caee4" stroke-width="2.8"/><polygon points="456.5,389.7 461,382.5 465.5,389.7" fill="#1caee4"/>
<line x1="481" y1="359.3" x2="491" y2="359.3" stroke="#1caee4" stroke-width="2.8"/><polygon points="489.8,354.8 497.2,359.3 489.8,363.8" fill="#1caee4"/>
<rect x="588" y="293" width="134" height="158" rx="6" ry="6" fill="#ededed" stroke="#000" stroke-width="1.5"/>
<rect x="596" y="315" width="120" height="128" rx="5" ry="5" fill="#fff" stroke="#777" stroke-width="1.2" stroke-dasharray="1.2 1.9"/>
<rect x="602.5" y="361" width="108" height="65" fill="#fff2cc" stroke="#000" stroke-width="1.1"/>
<path d="M559.5,426.5 L579.7,426.5 L579.7,337.2 L637,337.2 L637,348" fill="none" stroke="#1caee4" stroke-width="2.8"/><polygon points="633,346 641,346 637,355" fill="#1caee4"/>
<path d="M671.8,356 L671.8,337.2 L727.5,337.2 L727.5,463 L582,463" fill="none" stroke="#ba0d14" stroke-width="2.8"/><polygon points="583,458.5 583,467.5 575.5,463" fill="#ba0d14"/>
<rect x="633.9" y="355" width="6" height="6" fill="#000"/><rect x="669" y="355" width="6" height="6" fill="#000"/>
<rect x="615" y="395.8" width="83" height="19" fill="#f3bcbc"/>
<path d="M611.5,391 h4 v23.3 h25 v-23.3 h4 v23.3 h25 v-23.3 h4 v23.3 h25 v-23.3 h4 v28.5 h-91 z" fill="#7f7f7f"/>
<path d="M621.5999999999999,402.8 v5.8 a5.7,2.1 0 0 0 11.4,0 v-5.8 z" fill="#e6e6e6" stroke="#8a8a8a" stroke-width="0.6"/><ellipse cx="627.3" cy="402.8" rx="5.7" ry="2.1" fill="#fff" stroke="#8a8a8a" stroke-width="0.6"/>
<path d="M650.5999999999999,402.8 v5.8 a5.7,2.1 0 0 0 11.4,0 v-5.8 z" fill="#e6e6e6" stroke="#8a8a8a" stroke-width="0.6"/><ellipse cx="656.3" cy="402.8" rx="5.7" ry="2.1" fill="#fff" stroke="#8a8a8a" stroke-width="0.6"/>
<path d="M679.5999999999999,402.8 v5.8 a5.7,2.1 0 0 0 11.4,0 v-5.8 z" fill="#e6e6e6" stroke="#8a8a8a" stroke-width="0.6"/><ellipse cx="685.3" cy="402.8" rx="5.7" ry="2.1" fill="#fff" stroke="#8a8a8a" stroke-width="0.6"/>
<path d="M622,385 L626.7,401.5 M609.5,430 L619,410.5 M652,431 L642.3,418" fill="none" stroke="#000" stroke-width="0.8"/>
<circle cx="626.7" cy="402" r="1.2" fill="#000"/><circle cx="619" cy="410.4" r="1.5" fill="#000"/><circle cx="642.3" cy="417.8" r="1.5" fill="#000"/>
<path d="M685,395.5 L751,353 M685,415.5 L764,432" fill="none" stroke="#404040" stroke-width="0.8"/>
<text x="626.8" y="309.3" font-size="11.5" fill="#000" stroke="#000" stroke-width="0.3" font-weight="bold" textLength="14.4" lengthAdjust="spacingAndGlyphs" font-family="Liberation Serif, serif" style="font-family:'Liberation Serif',serif"><tspan font-style="italic">C0</tspan><tspan font-size="8" dy="2.2">2</tspan></text>
<text x="644.7" y="309.5" font-size="10.5" fill="#000" stroke="#000" stroke-width="0.3" font-weight="bold" textLength="40.3" lengthAdjust="spacingAndGlyphs">incubator</text>
<text x="626.2" y="330.7" font-size="10.5" fill="#000" stroke="#000" stroke-width="0.3" font-weight="bold" textLength="8.8" lengthAdjust="spacingAndGlyphs">IN</text>
<text x="674.4" y="330.7" font-size="10.5" fill="#000" stroke="#000" stroke-width="0.3" font-weight="bold" textLength="18.8" lengthAdjust="spacingAndGlyphs">OUT</text>
<text x="668.0" y="372.5" font-size="10.5" fill="#000" stroke="#000" stroke-width="0.3" font-weight="bold" textLength="38.0" lengthAdjust="spacingAndGlyphs">Chamber</text>
<text x="607.3" y="382.0" font-size="10.5" fill="#000" stroke="#000" stroke-width="0.3" font-weight="bold" textLength="32.2" lengthAdjust="spacingAndGlyphs">Scaffold</text>
<text x="602.5" y="438.0" font-size="10" fill="#000" stroke="#000" stroke-width="0.3" font-weight="bold" textLength="22.5" lengthAdjust="spacingAndGlyphs">Media</text>
<text x="647.5" y="438.0" font-size="10" fill="#000" stroke="#000" stroke-width="0.3" font-weight="bold" textLength="66.5" lengthAdjust="spacingAndGlyphs">Cell culture plate</text>
<text x="728.4" y="324.0" font-size="12.5" fill="#000" stroke="#000" stroke-width="0.3" font-weight="bold" textLength="90.6" lengthAdjust="spacingAndGlyphs">Indirect hydrostatic</text>
<text x="752.8" y="338.0" font-size="12.5" fill="#000" stroke="#000" stroke-width="0.3" font-weight="bold" textLength="41.0" lengthAdjust="spacingAndGlyphs">pressure</text>
<clipPath id="cc"><ellipse cx="770.2" cy="390" rx="35" ry="42"/></clipPath>
<ellipse cx="770.2" cy="390" rx="35" ry="42" fill="#fff"/>
<rect x="730" y="373" width="80" height="62" fill="#fb9c9c" clip-path="url(#cc)"/>
<ellipse cx="770.2" cy="390" rx="36" ry="43" fill="none" stroke="#000" stroke-width="2" stroke-dasharray="1.8 2.2"/>
<line x1="790.9" y1="409.9" x2="781.4" y2="407.0" stroke="#ffd92e" stroke-width="2.2"/>
<polygon points="780.0,406.5 783.8,410.9 785.6,405.2" fill="#ffd92e"/>
<line x1="782.7" y1="421.9" x2="776.8" y2="414.2" stroke="#ffd92e" stroke-width="2.2"/>
<polygon points="776.0,413.0 776.5,418.8 781.3,415.3" fill="#ffd92e"/>
<line x1="769.5" y1="426.5" x2="769.5" y2="417.0" stroke="#ffd92e" stroke-width="2.2"/>
<polygon points="769.5,415.5 766.5,420.5 772.5,420.5" fill="#ffd92e"/>
<line x1="756.3" y1="421.9" x2="762.2" y2="414.2" stroke="#ffd92e" stroke-width="2.2"/>
<polygon points="763.0,413.0 757.7,415.3 762.5,418.8" fill="#ffd92e"/>
<line x1="748.1" y1="409.9" x2="757.6" y2="407.0" stroke="#ffd92e" stroke-width="2.2"/>
<polygon points="759.0,406.5 753.4,405.2 755.2,410.9" fill="#ffd92e"/>
<line x1="748.1" y1="395.1" x2="757.6" y2="398.0" stroke="#ffd92e" stroke-width="2.2"/>
<polygon points="759.0,398.5 755.2,394.1 753.4,399.8" fill="#ffd92e"/>
<line x1="756.3" y1="383.1" x2="762.2" y2="390.8" stroke="#ffd92e" stroke-width="2.2"/>
<polygon points="763.0,392.0 762.5,386.2 757.7,389.7" fill="#ffd92e"/>
<line x1="769.5" y1="378.5" x2="769.5" y2="388.0" stroke="#ffd92e" stroke-width="2.2"/>
<polygon points="769.5,389.5 772.5,384.5 766.5,384.5" fill="#ffd92e"/>
<line x1="782.7" y1="383.1" x2="776.8" y2="390.8" stroke="#ffd92e" stroke-width="2.2"/>
<polygon points="776.0,392.0 781.3,389.7 776.5,386.2" fill="#ffd92e"/>
<line x1="790.9" y1="395.1" x2="781.4" y2="398.0" stroke="#ffd92e" stroke-width="2.2"/>
<polygon points="780.0,398.5 785.6,399.8 783.8,394.1" fill="#ffd92e"/>
<g transform="rotate(20 769.5 402.5)"><path d="M762.3,395 v15 a7.2,2.8 0 0 0 14.4,0 v-15 z" fill="#e2e2e2" stroke="#9a9a9a" stroke-width="0.6"/><ellipse cx="769.5" cy="395" rx="7.2" ry="2.8" fill="#fafafa" stroke="#9a9a9a" stroke-width="0.6"/></g>
<text x="752.0" y="363.3" font-size="9.5" fill="#000" stroke="#000" stroke-width="0.3" font-weight="bold" textLength="31.0" lengthAdjust="spacingAndGlyphs">Pressure</text>
<text x="785.0" y="372.0" font-size="8.5" fill="#000" stroke="#000" stroke-width="0.3" font-weight="bold" textLength="8.3" lengthAdjust="spacingAndGlyphs">Air</text>
<text x="780.0" y="382.3" font-size="9" fill="#000" stroke="#000" stroke-width="0.3" font-weight="bold" textLength="20.3" lengthAdjust="spacingAndGlyphs">Media</text>
<text x="755.6" y="403.6" font-size="9" fill="#000" stroke="#000" stroke-width="0.3" font-weight="bold" textLength="27.9" lengthAdjust="spacingAndGlyphs">Scaffold</text>
<path d="M761.5,365.5 L761.5,371" stroke="#000" stroke-width="0.9"/><polygon points="759.7,370 763.3,370 761.5,373.5" fill="#000"/>
<path d="M767,365.5 L767,371" stroke="#000" stroke-width="0.9"/><polygon points="765.2,370 768.8,370 767,373.5" fill="#000"/>
<path d="M772.5,365.5 L772.5,371" stroke="#000" stroke-width="0.9"/><polygon points="770.7,370 774.3,370 772.5,373.5" fill="#000"/>
</svg>
</body>
</html>
